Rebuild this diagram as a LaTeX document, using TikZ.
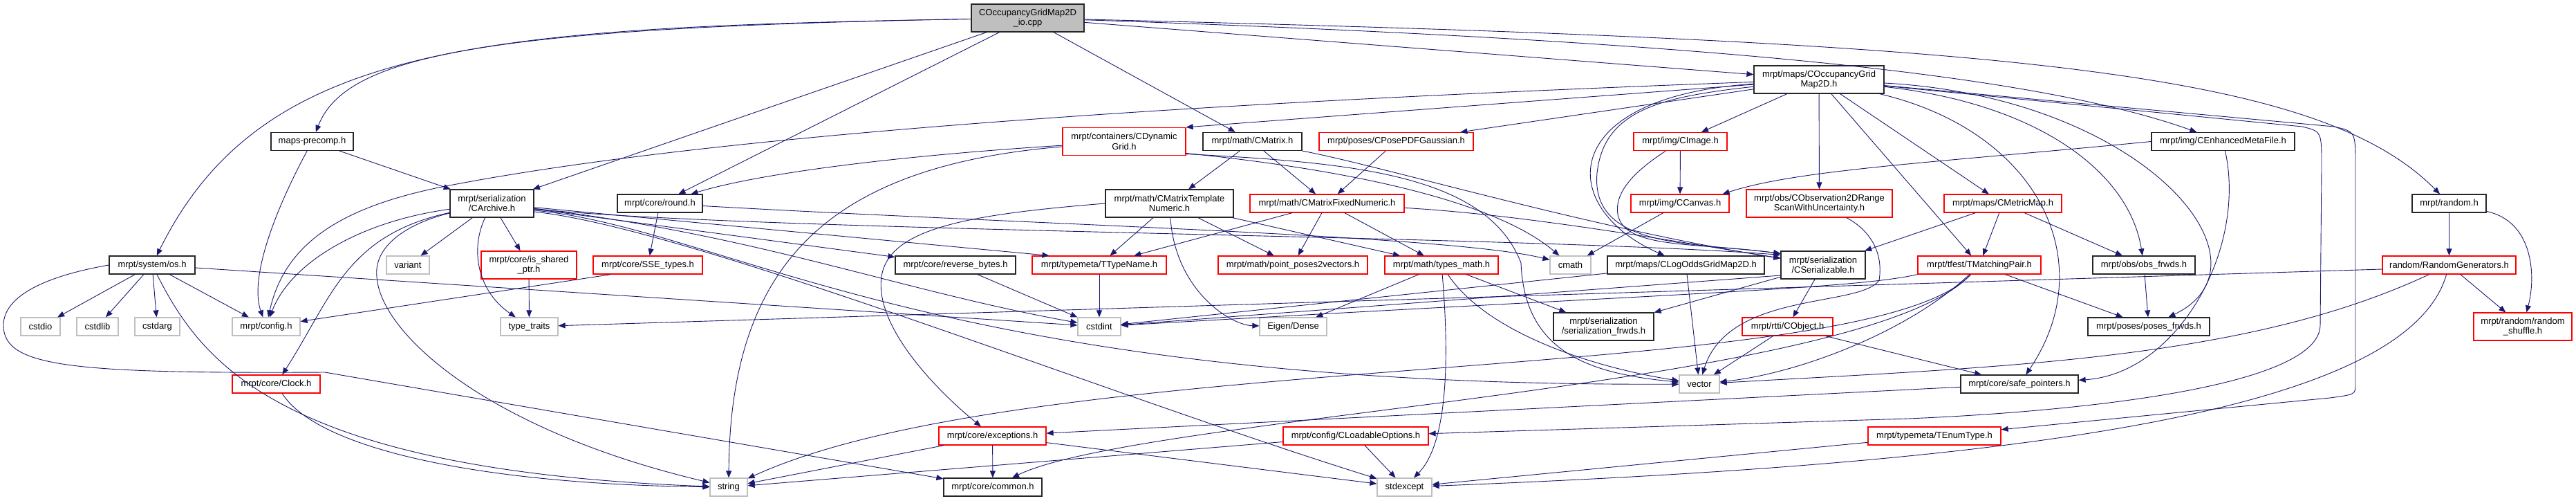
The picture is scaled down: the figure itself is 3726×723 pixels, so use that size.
\documentclass[tikz,border=0pt]{standalone}
\usepackage{fontspec}
\setmainfont{Liberation Sans}
\usetikzlibrary{arrows.meta}
\definecolor{mblue}{HTML}{191970}
\definecolor{lgray}{HTML}{BFBFBF}
\definecolor{nred}{HTML}{FF0000}
\tikzset{
  nd/.style={draw, rectangle, inner xsep=3pt, inner ysep=1pt, minimum height=26pt, line width=1.2pt, align=center, font=\fontsize{13}{14.5}\selectfont},
  bk/.style={nd, draw=black!85},
  rd/.style={nd, draw=nred},
  gy/.style={nd, draw=lgray},
  two/.style={minimum height=40pt},
  dep/.style={draw=mblue, line width=0.9pt, -{Triangle[length=10pt,width=8pt]}},
}
\begin{document}
\begin{tikzpicture}[x=1pt, y=-1pt]
\useasboundingbox (0,0) rectangle (3726,723);
% row 0
\node[bk,two,fill=lgray,minimum width=163pt] (io) at (1486.5,26) {COccupancyGridMap2D\\\_io.cpp};
% row 1
\node[bk,two,minimum width=188pt] (cogm) at (2631,115) {mrpt/maps/COccupancyGrid\\Map2D.h};
% row 2
\node[bk,minimum width=119pt] (precomp) at (451.5,204.5) {maps-precomp.h};
\node[rd,two,minimum width=178pt] (cdyn) at (1626,204.5) {mrpt/containers/CDynamic\\Grid.h};
\node[bk,minimum width=143pt] (cmatrix) at (1811.5,204.5) {mrpt/math/CMatrix.h};
\node[rd,minimum width=223pt] (cposepdf) at (2019.5,204.5) {mrpt/poses/CPosePDFGaussian.h};
\node[rd,minimum width=135pt] (cimage) at (2430.5,204.5) {mrpt/img/CImage.h};
\node[bk,minimum width=207pt] (cemf) at (3215.5,204.5) {mrpt/img/CEnhancedMetaFile.h};
% row 3
\node[bk,two,minimum width=121pt] (carchive) at (711.5,294) {mrpt/serialization\\/CArchive.h};
\node[bk,minimum width=123pt] (round) at (954.5,294) {mrpt/core/round.h};
\node[bk,two,minimum width=185pt] (cmtn) at (1691.5,294) {mrpt/math/CMatrixTemplate\\Numeric.h};
\node[rd,minimum width=223pt] (cmfn) at (1919.5,294) {mrpt/math/CMatrixFixedNumeric.h};
\node[rd,minimum width=142pt] (ccanvas) at (2430,294) {mrpt/img/CCanvas.h};
\node[rd,two,minimum width=211pt] (cobs) at (2631.5,294) {mrpt/obs/CObservation2DRange\\ScanWithUncertainty.h};
\node[rd,minimum width=170pt] (cmetric) at (2897,294) {mrpt/maps/CMetricMap.h};
\node[bk,minimum width=107pt] (random) at (3542.5,294) {mrpt/random.h};
% row 4
\node[bk,minimum width=124pt] (os) at (220,383) {mrpt/system/os.h};
\node[gy,minimum width=62pt] (variant) at (590,383) {variant};
\node[rd,two,minimum width=138pt] (isshared) at (765,383) {mrpt/core/is\_shared\\\_ptr.h};
\node[rd,minimum width=158pt] (sse) at (937,383) {mrpt/core/SSE\_types.h};
\node[bk,minimum width=174pt] (revbytes) at (1382,383) {mrpt/core/reverse\_bytes.h};
\node[rd,minimum width=194pt] (ttype) at (1590,383) {mrpt/typemeta/TTypeName.h};
\node[rd,minimum width=216pt] (pp2v) at (1870,383) {mrpt/math/point\_poses2vectors.h};
\node[rd,minimum width=164pt] (typesmath) at (2085,383) {mrpt/math/types\_math.h};
\node[gy,minimum width=59pt] (cmath) at (2271.5,383) {cmath};
\node[bk,minimum width=227pt] (clogodds) at (2438.5,383) {mrpt/maps/CLogOddsGridMap2D.h};
\node[bk,two,minimum width=122pt] (cser) at (2637,383) {mrpt/serialization\\/CSerializable.h};
\node[rd,minimum width=178pt] (tmatch) at (2863,383) {mrpt/tfest/TMatchingPair.h};
\node[bk,minimum width=148pt] (obsfrwds) at (3101,383) {mrpt/obs/obs\_frwds.h};
\node[rd,minimum width=193pt] (randgen) at (3542.5,383) {random/RandomGenerators.h};
% row 5
\node[gy,minimum width=57pt] (cstdio) at (58.5,472) {cstdio};
\node[gy,minimum width=60pt] (cstdlib) at (141,472) {cstdlib};
\node[gy,minimum width=65pt] (cstdarg) at (227.5,472) {cstdarg};
\node[gy,minimum width=98pt] (config) at (385,472) {mrpt/config.h};
\node[gy,minimum width=83pt] (typetraits) at (765.5,472) {type\_traits};
\node[gy,minimum width=62pt] (cstdint) at (1590,472) {cstdint};
\node[gy,minimum width=97pt] (eigen) at (1870.5,472) {Eigen/Dense};
\node[bk,two,minimum width=145pt] (serfrwds) at (2319.5,472) {mrpt/serialization\\/serialization\_frwds.h};
\node[rd,minimum width=131pt] (cobject) at (2585.5,472) {mrpt/rtti/CObject.h};
\node[bk,minimum width=176pt] (posesfrwds) at (3108,472) {mrpt/poses/poses\_frwds.h};
\node[rd,two,minimum width=142pt] (rshuffle) at (3649,472) {mrpt/random/random\\\_shuffle.h};
% row 6
\node[rd,minimum width=127pt] (clock) at (399.5,555) {mrpt/core/Clock.h};
\node[gy,minimum width=58pt] (vector) at (2458,555) {vector};
\node[bk,minimum width=170pt] (safeptr) at (2921,555) {mrpt/core/safe\_pointers.h};
% row 7
\node[rd,minimum width=155pt] (exceptions) at (1435.5,630) {mrpt/core/exceptions.h};
\node[rd,minimum width=210pt] (cloadable) at (1961,630) {mrpt/config/CLoadableOptions.h};
\node[rd,minimum width=192pt] (tenum) at (2798,630) {mrpt/typemeta/TEnumType.h};
% row 8
\node[gy,minimum width=54pt] (string) at (1054,704) {string};
\node[bk,minimum width=142pt] (common) at (1436,704) {mrpt/core/common.h};
\node[gy,minimum width=79pt] (stdexcept) at (2031.5,704) {stdexcept};

% ---- edges from the .cpp
\draw[dep] (io) .. controls (700,40) and (500,80) .. (precomp);
\draw[dep] (io) .. controls (700,40) and (380,60) .. (os);
\draw[dep] (io) -- (carchive);
\draw[dep] (io) -- (round);
\draw[dep] (io) -- (cmatrix);
\draw[dep] (io) -- (cogm);
\draw[dep] (io) .. controls (2500,60) and (2950,110) .. (cemf);
\draw[dep] (io) .. controls (2900,60) and (3350,100) .. (random);
% maps-precomp
\draw[dep] (precomp) -- (carchive);
\draw[dep] (precomp) .. controls (400,300) and (360,400) .. (config);
% COccupancyGridMap2D.h
\draw[dep] (cogm) .. controls (1400,160) and (900,220) .. (650,268) .. controls (480,300) and (410,360) .. (config);
\draw[dep] (cogm) -- (cdyn.north east);
\draw[dep] (cogm) -- (cposepdf);
\draw[dep] (cogm) -- (cimage);
\draw[dep] (cogm) -- (cobs);
\draw[dep] (cogm) -- (cmetric);
\draw[dep] (cogm) .. controls (2250,140) and (2250,300) .. (clogodds);
\draw[dep] (cogm) .. controls (2400,140) and (2320,160) .. (2310,250) .. controls (2300,360) and (2450,350) .. ([yshift=-4pt]cser.north west);
\draw[dep] (cogm) -- (tmatch);
\draw[dep] (cogm) .. controls (2950,150) and (3080,250) .. (obsfrwds);
\draw[dep] (cogm) .. controls (3100,140) and (3300,380) .. (posesfrwds);
\draw[dep] (cogm) .. controls (2950,190) and (3040,380) .. (safeptr);
\draw[dep] (cogm) -- (3330,183) .. controls (3358,190) .. (3358,240) -- (3356,470) .. controls (3355,560) and (3000,595) .. (2760,605) -- (cloadable);
\draw[dep] (cogm) -- (3376,183) .. controls (3407,190) .. (3407,240) -- (3407,555) .. controls (3407,570) .. (3370,575) -- (tenum);
% CArchive
\draw[dep] (carchive) -- (variant);
\draw[dep] (carchive) -- (isshared);
\draw[dep] (carchive) .. controls (680,360) and (690,420) .. (typetraits);
\draw[dep] (carchive) .. controls (520,320) and (420,380) .. (config);
\draw[dep] (carchive) .. controls (500,340) and (480,430) .. (clock);
\draw[dep] ([yshift=-14pt]carchive.west) .. controls (600,320) and (540,350) .. (545,400) .. controls (550,480) and (700,620) .. (string);
\draw[dep] (carchive) -- (revbytes);
\draw[dep] (carchive) -- ([xshift=25pt]ttype.north west);
\draw[dep] (carchive) .. controls (1100,340) and (1300,420) .. (cstdint);
\draw[dep] ([yshift=-8pt]carchive.east) .. controls (1100,335) and (2200,340) .. ([yshift=-6pt]cser.north west);
\draw[dep] ([yshift=-10pt]carchive.east) .. controls (1050,330) and (1350,560) .. (vector);
\draw[dep] ([yshift=-12pt]carchive.east) .. controls (1000,330) and (1600,570) .. (stdexcept);
% os.h
\draw[dep] (os) -- (cstdio);
\draw[dep] (os) -- (cstdlib);
\draw[dep] (os) -- (cstdarg);
\draw[dep] (os) -- (config);
\draw[dep] (os) -- (cstdint);
\draw[dep] (os) .. controls (290,520) and (400,680) .. (string);
\draw[dep] (os.west) .. controls (60,400) and (5,430) .. (5,470) .. controls (5,530) and (100,540) .. (470,538) -- (common);
% Clock
\draw[dep] (clock) .. controls (460,650) and (700,700) .. (string);
% round
\draw[dep] (round) -- (sse);
\draw[dep] (round) .. controls (1500,325) and (2100,340) .. (cmath);
% CDynamicGrid
\draw[dep] (cdyn) .. controls (1300,225) and (1100,250) .. (round);
\draw[dep] (cdyn) .. controls (1200,240) and (1056,380) .. (string);
\draw[dep] ([yshift=-17pt]cdyn.east) .. controls (1900,240) and (2150,280) .. (cmath);
\draw[dep] ([yshift=-18pt]cdyn.east) .. controls (1950,235) and (2150,250) .. (2200,380) .. controls (2205,510) and (2300,540) .. (vector);
% CMatrix
\draw[dep] (cmatrix) -- (cmtn);
\draw[dep] (cmatrix) -- (cmfn);
\draw[dep] (cmatrix) .. controls (2000,240) and (2300,330) .. (cser);
% CMatrixTemplateNumeric
\draw[dep] (cmtn) -- (ttype);
\draw[dep] (cmtn) -- (pp2v);
\draw[dep] (cmtn) -- (typesmath);
\draw[dep] (cmtn) .. controls (1700,420) and (1780,470) .. (eigen);
\draw[dep] (cmtn.west) .. controls (1400,310) and (1285,330) .. (1275,400) .. controls (1265,470) and (1350,560) .. (exceptions);
% CMatrixFixedNumeric
\draw[dep] (cmfn) -- (ttype);
\draw[dep] (cmfn) -- (pp2v);
\draw[dep] (cmfn) -- (typesmath);
\draw[dep] (cmfn) .. controls (2200,310) and (2400,345) .. (cser);
% others row 2
\draw[dep] (cposepdf) -- (cmfn);
\draw[dep] (cimage) -- (ccanvas);
\draw[dep] (cimage) .. controls (2360,250) and (2335,280) .. (2340,310) .. controls (2350,360) and (2450,350) .. ([yshift=-4pt]cser.north west);
\draw[dep] (cemf.west) .. controls (2800,235) and (2600,245) .. ([xshift=-10pt]ccanvas.north east);
\draw[dep] (cemf) .. controls (3250,360) and (3150,540) .. (safeptr);
% row 3 others
\draw[dep] (ccanvas) -- (cmath);
\draw[dep] (cobs) .. controls (2700,330) and (2725,360) .. (2718,405) .. controls (2690,445) and (2500,420) .. (vector);
\draw[dep] (cmetric) -- (cser);
\draw[dep] (cmetric) -- (tmatch);
\draw[dep] (cmetric) -- (obsfrwds);
\draw[dep] (random) -- (randgen);
\draw[dep] (random) .. controls (3665,320) and (3668,400) .. (rshuffle);
% row 4
\draw[dep] (isshared) -- (typetraits);
\draw[dep] ([xshift=26pt]sse.south west) -- (config);
\draw[dep] (revbytes) -- (cstdint);
\draw[dep] (ttype) -- (cstdint);
\draw[dep] (typesmath) -- (eigen);
\draw[dep] (typesmath) -- (serfrwds);
\draw[dep] (typesmath) .. controls (2100,560) and (2085,650) .. (stdexcept);
\draw[dep] (typesmath) .. controls (2150,480) and (2300,530) .. (vector);
\draw[dep] (clogodds) -- (cstdint);
\draw[dep] (clogodds) -- (vector);
\draw[dep] (cser) -- (cobject);
\draw[dep] (cser) -- (serfrwds);
\draw[dep] ([yshift=-15pt]cser.west) -- (cstdint);
\draw[dep] (tmatch.south west) .. controls (2680,418) and (2400,425) .. (cstdint);
\draw[dep] (tmatch) .. controls (2760,480) and (2600,540) .. (vector);
\draw[dep] (tmatch) .. controls (2700,560) and (1500,500) .. (string);
\draw[dep] (tmatch) .. controls (2700,560) and (1650,600) .. (common);
\draw[dep] (tmatch) -- (posesfrwds);
\draw[dep] (obsfrwds) -- (posesfrwds);
\draw[dep] (randgen) -- (rshuffle);
\draw[dep] ([yshift=-6pt]randgen.west) -- (typetraits);
\draw[dep] (randgen) .. controls (3250,520) and (2900,530) .. (vector);
\draw[dep] (randgen) .. controls (3480,600) and (2900,670) .. (stdexcept);
% row 5/6/7
\draw[dep] (cobject) -- (vector);
\draw[dep] (cobject) -- (safeptr);
\draw[dep] (safeptr) -- (exceptions);
\draw[dep] (exceptions) -- (string);
\draw[dep] (exceptions) -- (common);
\draw[dep] (exceptions) -- (stdexcept);
\draw[dep] (cloadable) -- (string);
\draw[dep] (cloadable) -- (stdexcept);
\draw[dep] (tenum) -- (stdexcept);
\end{tikzpicture}
\end{document}
